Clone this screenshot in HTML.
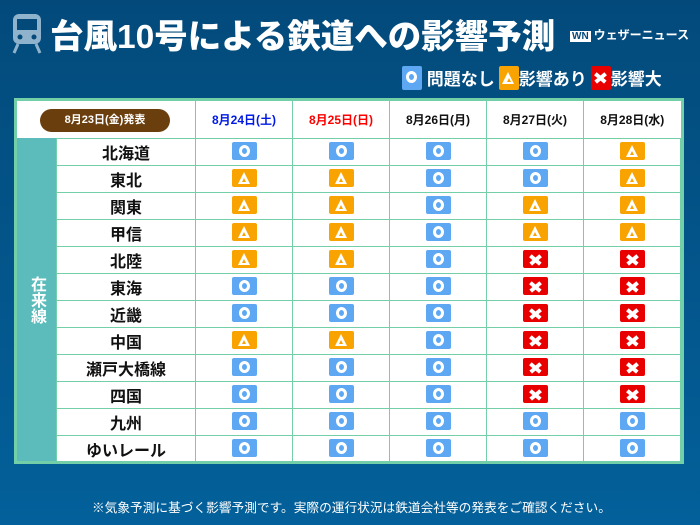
<!DOCTYPE html>
<html><head><meta charset="utf-8"><style>
*{margin:0;padding:0;box-sizing:border-box}
body{width:700px;height:525px;overflow:hidden;background:linear-gradient(#034a7b,#03609a);font-family:"Liberation Sans","Noto Sans CJK JP",sans-serif;position:relative;color:#fff}
.title{position:absolute;left:50px;top:9px;font-size:33.5px;font-weight:900;white-space:nowrap}
.logo{position:absolute;left:570px;top:26px;font-size:12px;font-weight:bold;white-space:nowrap}
.logo b{display:inline-block;background:#fff;color:#034a7b;font-size:10px;padding:0 2px;margin-right:3px}
.legend{position:absolute;left:402px;top:65px;font-size:17px;font-weight:bold;white-space:nowrap}
.legend span{margin-right:4px;vertical-align:middle}
.ic{display:inline-block;width:25px;height:18px;border-radius:2px;position:relative;vertical-align:middle}
.o{background:#5ea8f3}.o::after{content:"";position:absolute;left:7px;top:3px;width:11px;height:12px;border:3px solid #fff;border-radius:50%;box-sizing:border-box}
.t{background:#f9a300}.t::after{content:"";position:absolute;left:6px;top:3px;width:0;height:0;border-left:6.5px solid transparent;border-right:6.5px solid transparent;border-bottom:12px solid #fff}
.t::before{content:"";position:absolute;left:10.5px;top:9px;width:0;height:0;border-left:2px solid transparent;border-right:2px solid transparent;border-bottom:4px solid #f9a300;z-index:2}
.x{background:#e80000}
.x::before,.x::after{content:"";position:absolute;left:6px;top:7.5px;width:13px;height:3.5px;background:#fff;transform:rotate(40deg)}
.x::after{transform:rotate(-40deg)}
.lg .ic{width:20px;height:24px}
.lg .o::after{left:4px;top:5px}
.lg .t::after{left:3px;top:6px}.lg .t::before{left:8px;top:12px}
.lg .x::before,.lg .x::after{left:3px;top:10px}
.tbl{position:absolute;left:14px;top:98px;width:670px;height:366px;background:#fff;border:3px solid #72cfa8}
.side{position:absolute;left:0;top:37px;width:39px;height:323px;background:#5bbcbb;font-size:16px;font-weight:bold;writing-mode:vertical-rl;text-orientation:upright;line-height:39px;display:flex;align-items:center;justify-content:center}
table{position:absolute;left:39px;top:0;border-collapse:collapse}
td{border:1.5px solid #72cfa8;text-align:center;height:27px;padding:0;color:#111;font-weight:bold}
td.n{width:139px;font-size:16px}
td.d{width:97px}
tr.h td{height:37px;font-size:12px;border-top:none}
.pill{position:absolute;left:23px;top:8px;width:130px;height:23px;border-radius:12px;background:#6b3f0d;color:#fff;font-size:11px;font-weight:bold;text-align:center;line-height:23px}
.foot{position:absolute;left:92px;top:497px;font-size:12.7px;white-space:nowrap}
</style></head><body>
<svg style="position:absolute;left:12px;top:14px" width="30" height="40" viewBox="0 0 30 40"><rect x="1" y="0" width="28" height="30" rx="6" fill="#8fb3cc"/><rect x="5" y="5" width="20" height="11" fill="#034a7b"/><circle cx="8" cy="23" r="2.5" fill="#034a7b"/><circle cx="22" cy="23" r="2.5" fill="#034a7b"/><path d="M6 30 L2 39 M24 30 L28 39" stroke="#8fb3cc" stroke-width="3"/></svg>
<div class="title">台風10号による鉄道への影響予測</div>
<div class="logo"><b>WN</b>ウェザーニュース</div>
<div class="legend lg"><i class="ic o"></i><span> 問題なし</span><i class="ic t"></i><span>影響あり</span><i class="ic x"></i><span>影響大</span></div>
<div class="tbl">
<div class="side">在来線</div>
<table>
<tr class="h"><td class="n" style="border-left:none"></td><td class="d" style="color:#0019e6">8月24日(土)</td><td class="d" style="color:#f00">8月25日(日)</td><td class="d">8月26日(月)</td><td class="d">8月27日(火)</td><td class="d" style="border-right:none">8月28日(水)</td></tr>
<tr><td class="n">北海道</td><td><i class="ic o"></i></td><td><i class="ic o"></i></td><td><i class="ic o"></i></td><td><i class="ic o"></i></td><td><i class="ic t"></i></td></tr>
<tr><td class="n">東北</td><td><i class="ic t"></i></td><td><i class="ic t"></i></td><td><i class="ic o"></i></td><td><i class="ic o"></i></td><td><i class="ic t"></i></td></tr>
<tr><td class="n">関東</td><td><i class="ic t"></i></td><td><i class="ic t"></i></td><td><i class="ic o"></i></td><td><i class="ic t"></i></td><td><i class="ic t"></i></td></tr>
<tr><td class="n">甲信</td><td><i class="ic t"></i></td><td><i class="ic t"></i></td><td><i class="ic o"></i></td><td><i class="ic t"></i></td><td><i class="ic t"></i></td></tr>
<tr><td class="n">北陸</td><td><i class="ic t"></i></td><td><i class="ic t"></i></td><td><i class="ic o"></i></td><td><i class="ic x"></i></td><td><i class="ic x"></i></td></tr>
<tr><td class="n">東海</td><td><i class="ic o"></i></td><td><i class="ic o"></i></td><td><i class="ic o"></i></td><td><i class="ic x"></i></td><td><i class="ic x"></i></td></tr>
<tr><td class="n">近畿</td><td><i class="ic o"></i></td><td><i class="ic o"></i></td><td><i class="ic o"></i></td><td><i class="ic x"></i></td><td><i class="ic x"></i></td></tr>
<tr><td class="n">中国</td><td><i class="ic t"></i></td><td><i class="ic t"></i></td><td><i class="ic o"></i></td><td><i class="ic x"></i></td><td><i class="ic x"></i></td></tr>
<tr><td class="n">瀬戸大橋線</td><td><i class="ic o"></i></td><td><i class="ic o"></i></td><td><i class="ic o"></i></td><td><i class="ic x"></i></td><td><i class="ic x"></i></td></tr>
<tr><td class="n">四国</td><td><i class="ic o"></i></td><td><i class="ic o"></i></td><td><i class="ic o"></i></td><td><i class="ic x"></i></td><td><i class="ic x"></i></td></tr>
<tr><td class="n">九州</td><td><i class="ic o"></i></td><td><i class="ic o"></i></td><td><i class="ic o"></i></td><td><i class="ic o"></i></td><td><i class="ic o"></i></td></tr>
<tr><td class="n">ゆいレール</td><td><i class="ic o"></i></td><td><i class="ic o"></i></td><td><i class="ic o"></i></td><td><i class="ic o"></i></td><td><i class="ic o"></i></td></tr>
</table>
<div class="pill">8月23日(金)発表</div>
</div>
<div class="foot">※気象予測に基づく影響予測です。実際の運行状況は鉄道会社等の発表をご確認ください。</div>
</body></html>
